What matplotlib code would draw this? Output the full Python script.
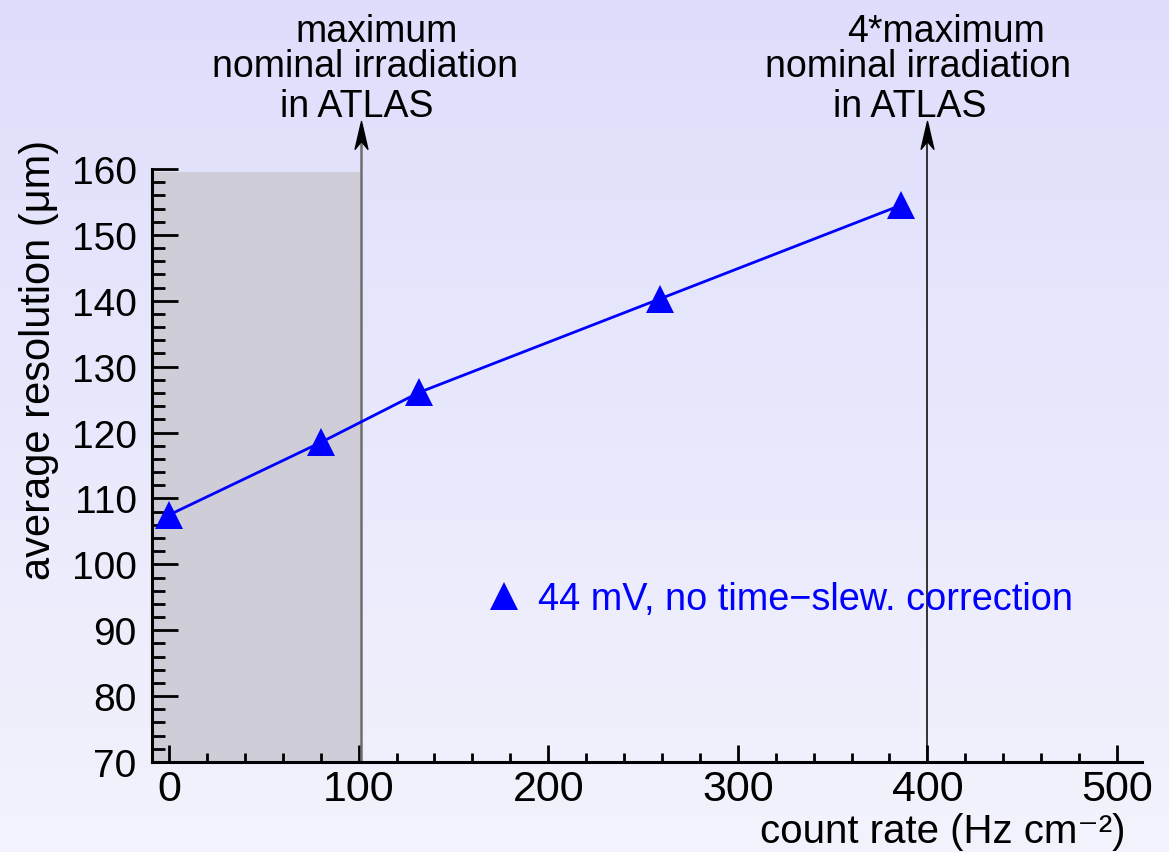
import numpy as np
import matplotlib
matplotlib.use("Agg")
import matplotlib.pyplot as plt
from matplotlib.path import Path
from matplotlib.lines import Line2D

plt.rcParams['font.family'] = ['Liberation Sans', 'DejaVu Sans']
plt.rcParams['mathtext.fontset'] = 'custom'
plt.rcParams['mathtext.rm'] = 'Liberation Sans'

# measurements: average resolution vs. count rate
count_rate = [0, 80, 132, 259, 386]
resolution = [107.5, 118.5, 126.1, 140.3, 154.5]
series_label = "44 mV, no time\u2212slew. correction"

# reference irradiation levels
nominal_rate = 101.5
four_times_rate = 400
nominal_text = ["maximum", "nominal irradiation", "in ATLAS"]
four_times_text = ["4*maximum", "nominal irradiation", "in ATLAS"]

xlim = (-9, 513.2)
ylim = (70, 160)

W, H = 1169, 853
fig = plt.figure(figsize=(W / 100, H / 100), dpi=100)

# soft vertical gradient behind everything
bg = fig.add_axes([0, 0, 1, 1], zorder=-10)
grad = np.linspace(0, 1, 256)[:, None]
top = np.array([222, 222, 252]) / 255
bot = np.array([243, 243, 253]) / 255
img = top[None, None, :] * (1 - grad[..., None]) + bot[None, None, :] * grad[..., None]
bg.imshow(img, aspect='auto', extent=[0, 1, 0, 1])
bg.set_axis_off()

ax = fig.add_axes([152 / W, 1 - 763 / H, (1142 - 152) / W, (763 - 170) / H])
ax.patch.set_alpha(0)
ax.set_xlim(*xlim)
ax.set_ylim(*ylim)

for s in ('top', 'right'):
    ax.spines[s].set_visible(False)
for s in ('left', 'bottom'):
    ax.spines[s].set_linewidth(2.2)

ax.set_xticks(np.arange(0, 501, 100))
ax.set_xticks(np.arange(0, 501, 20), minor=True)
ax.set_yticks(np.arange(70, 161, 10))
ax.set_yticks(np.arange(70, 161, 2), minor=True)
ax.tick_params(axis='both', which='both', direction='in', width=2.0)
ax.tick_params(axis='x', which='major', length=12.5, pad=5, labelsize=31)
ax.tick_params(axis='x', which='minor', length=6.5)
ax.tick_params(axis='y', which='major', length=19, pad=11, labelsize=28)
ax.tick_params(axis='y', which='minor', length=9)

# shaded region up to nominal irradiation
ax.fill_between([xlim[0], nominal_rate], ylim[0], 159.5, color='#CFCDD8',
                linewidth=0, zorder=1)

# reference arrows
head = Path([(0, 0), (-0.23, -1), (0, -0.72), (0.23, -1), (0, 0)],
            [Path.MOVETO, Path.LINETO, Path.LINETO, Path.LINETO, Path.CLOSEPOLY])
tip_y = 167.3
ax.plot([nominal_rate, nominal_rate], [ylim[0], tip_y - 1], color='#6E6E6E',
        lw=1.8, clip_on=False, zorder=2)
ax.plot([four_times_rate, four_times_rate], [ylim[0], tip_y - 1], color='black',
        lw=1.1, clip_on=False, zorder=2)
ax.plot([nominal_rate, four_times_rate], [tip_y, tip_y], linestyle='none',
        marker=head, markersize=40, color='black', clip_on=False, zorder=3)

# data series
ax.plot(count_rate, resolution, color='#0000FF', lw=2.0, zorder=4)
ax.plot(count_rate, resolution, linestyle='none', marker='^', markersize=20.5,
        color='#0000FF', markeredgewidth=0, zorder=5, clip_on=False)

handle = Line2D([], [], linestyle='none', marker='^', markersize=20.5,
                color='#0000FF', markeredgewidth=0)
ax.legend([handle], [series_label], loc='center left',
          bbox_to_anchor=(489 / W, 1 - 600 / H), bbox_transform=fig.transFigure,
          frameon=False, fontsize=27.3, labelcolor='#0000FF', handlelength=0.8,
          handletextpad=0.48, borderpad=0, borderaxespad=0)

# annotations above the arrows
for txt, cx, by in zip(nominal_text, [377, 365, 357], [42, 77, 117]):
    fig.text(cx / W, 1 - by / H, txt, ha='center', va='baseline', fontsize=27)
for txt, cx, by in zip(four_times_text, [946, 918, 910], [42, 77, 117]):
    fig.text(cx / W, 1 - by / H, txt, ha='center', va='baseline', fontsize=27)

# axis titles
fig.text(1125 / W, 1 - 843 / H, 'count rate (Hz cm\u207b\u00b2)',
         ha='right', va='baseline', fontsize=29)
fig.text(39 / W, 1 - 140 / H, 'average resolution (\u03bcm)', rotation=90,
         ha='center', va='top', fontsize=30)

fig.savefig('out.png', dpi=100)
